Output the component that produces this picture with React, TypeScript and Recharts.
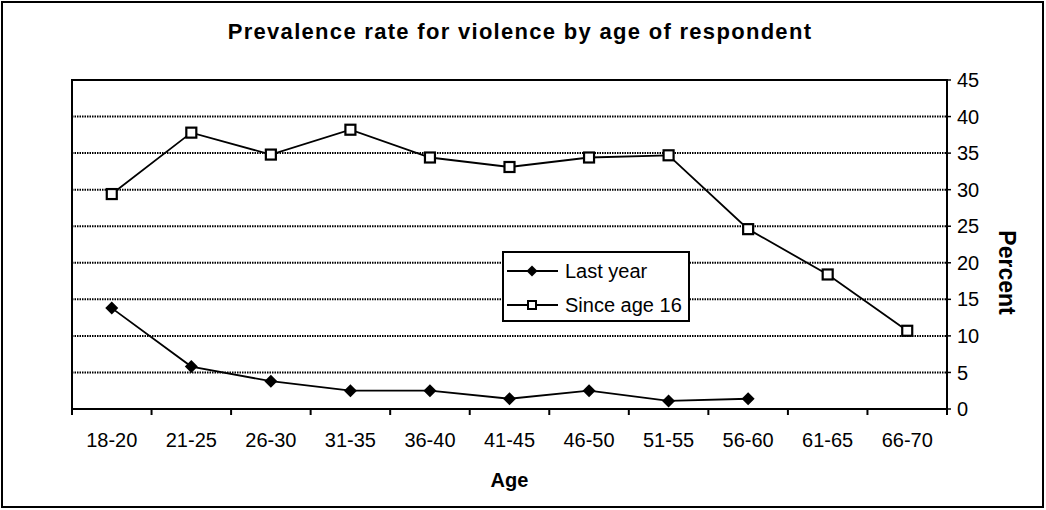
import { LineChart, Line, XAxis, YAxis, CartesianGrid, Legend, ReferenceArea } from 'recharts';

// age groups on the x axis
const ages = ['18-20', '21-25', '26-30', '31-35', '36-40', '41-45', '46-50', '51-55', '56-60', '61-65', '66-70'];
// percent
const lastYear = [13.8, 5.8, 3.8, 2.5, 2.5, 1.4, 2.5, 1.1, 1.4, null, null];
const sinceAge16 = [29.4, 37.8, 34.8, 38.2, 34.4, 33.1, 34.4, 34.7, 24.6, 18.4, 10.7];
const percentTicks = [0, 5, 10, 15, 20, 25, 30, 35, 40, 45];

const data = ages.map((age, i) => ({ age, lastYear: lastYear[i], since16: sinceAge16[i] }));

const W = 1046;
const H = 510;
const margin = { top: 80, right: 19, left: 72, bottom: 11 };
const Y_AXIS_W = 80;
const X_AXIS_H = 90;
const HALF_BAND = (W - margin.left - margin.right - Y_AXIS_W) / ages.length / 2;
const FONT = '"Liberation Sans", Arial, Helvetica, sans-serif';

function AgeTick(props: any) {
  const { x, y, payload } = props;
  const idx = payload?.index ?? props.index;
  return (
    <g>
      <line x1={x - HALF_BAND} x2={x - HALF_BAND} y1={y} y2={y + 6} stroke="#000" strokeWidth={2} />
      {idx === ages.length - 1 && (
        <line x1={x + HALF_BAND} x2={x + HALF_BAND} y1={y} y2={y + 6} stroke="#000" strokeWidth={2} />
      )}
      <text x={x} y={y + 38} textAnchor="middle" fontSize={20} fill="#000" fontFamily={FONT}>
        {payload.value}
      </text>
    </g>
  );
}

function Diamond(props: any) {
  const { cx, cy, index } = props;
  if (cx == null || cy == null) return <g key={`d-${index}`} />;
  return <path key={`d-${index}`} d={`M${cx},${cy - 6.5}L${cx + 6.5},${cy}L${cx},${cy + 6.5}L${cx - 6.5},${cy}Z`} fill="#000" />;
}

function Square(props: any) {
  const { cx, cy, index } = props;
  if (cx == null || cy == null) return <g key={`s-${index}`} />;
  return <rect key={`s-${index}`} x={cx - 5} y={cy - 5} width={10} height={10} fill="#fff" stroke="#000" strokeWidth={2.2} />;
}

const series = [
  { key: 'lastYear', name: 'Last year', marker: 'diamond' },
  { key: 'since16', name: 'Since age 16', marker: 'square' },
];

function LegendBox() {
  return (
    <div
      style={{
        width: 188,
        height: 71,
        boxSizing: 'border-box',
        border: '2px solid #000',
        background: '#fff',
        position: 'relative',
        fontFamily: FONT,
        fontSize: 20,
        color: '#000',
      }}
    >
      {series.map((s, i) => (
        <div key={s.key} style={{ position: 'absolute', left: 0, top: 7 + i * 34, height: 24, width: 184 }}>
          <svg width={56} height={24} style={{ position: 'absolute', left: 3, top: 0 }}>
            <line x1={0} x2={51} y1={11} y2={11} stroke="#000" strokeWidth={1.8} />
            {s.marker === 'diamond' ? (
              <path d="M25,5.5L30.5,11L25,16.5L19.5,11Z" fill="#000" />
            ) : (
              <rect x={21} y={7} width={8} height={8} fill="#fff" stroke="#000" strokeWidth={2} />
            )}
          </svg>
          <span style={{ position: 'absolute', left: 61, top: 0, lineHeight: '22px', whiteSpace: 'nowrap' }}>{s.name}</span>
        </div>
      ))}
    </div>
  );
}

export default function App() {
  return (
    <div style={{ position: 'absolute', left: 0, top: 0, width: W, height: H, background: '#fff', fontFamily: FONT }}>
      <div
        style={{
          position: 'absolute',
          left: 0,
          top: 21,
          width: 1040,
          textAlign: 'center',
          fontSize: 22,
          lineHeight: '22px',
          fontWeight: 'bold',
          letterSpacing: 1.3,
          color: '#000',
        }}
      >
        Prevalence rate for violence by age of respondent
      </div>
      <LineChart width={W} height={H} data={data} margin={margin} style={{ position: 'absolute', left: 0, top: 0 }}>
        <CartesianGrid vertical={false} stroke="#000" strokeWidth={2} strokeDasharray="1.5 1" />
        <ReferenceArea y1={0} y2={45} fill="none" fillOpacity={0} stroke="#000" strokeWidth={2} ifOverflow="visible" />
        <XAxis
          dataKey="age"
          scale="band"
          interval={0}
          height={X_AXIS_H}
          tickSize={0}
          tickMargin={0}
          tickLine={false}
          axisLine={{ stroke: '#000', strokeWidth: 2 }}
          tick={<AgeTick />}
          label={(p: any) => {
            const vb = p.viewBox || {};
            return (
              <text x={vb.x + vb.width / 2} y={vb.y + 78} textAnchor="middle" fontSize={20} fontWeight="bold" fill="#000" fontFamily={FONT}>
                Age
              </text>
            );
          }}
        />
        <YAxis
          orientation="right"
          domain={[0, 45]}
          ticks={percentTicks}
          interval={0}
          width={Y_AXIS_W}
          tickSize={4}
          tickMargin={6}
          axisLine={{ stroke: '#000', strokeWidth: 2 }}
          tickLine={{ stroke: '#000', strokeWidth: 1.5 }}
          tick={{ fontSize: 20, fill: '#000', fontFamily: FONT }}
          label={(p: any) => {
            const vb = p.viewBox || {};
            const cx = vb.x + 60;
            const cy = vb.y + vb.height / 2 + 28;
            return (
              <text
                x={cx}
                y={cy}
                transform={`rotate(90, ${cx}, ${cy})`}
                textAnchor="middle"
                dominantBaseline="central"
                fontSize={23}
                fontWeight="bold"
                fill="#000"
                fontFamily={FONT}
              >
                Percent
              </text>
            );
          }}
        />
        <Legend
          layout="vertical"
          align="center"
          verticalAlign="middle"
          content={() => <LegendBox />}
          wrapperStyle={{ position: 'absolute', left: 502, top: 251, width: 188, height: 71 }}
        />
        <Line
          dataKey="lastYear"
          name="Last year"
          stroke="#000"
          strokeWidth={1.8}
          dot={Diamond}
          activeDot={false}
          connectNulls={false}
          isAnimationActive={false}
        />
        <Line
          dataKey="since16"
          name="Since age 16"
          stroke="#000"
          strokeWidth={1.8}
          dot={Square}
          activeDot={false}
          isAnimationActive={false}
        />
      </LineChart>
      <div
        style={{
          position: 'absolute',
          left: 1,
          top: 1,
          width: 1043,
          height: 507,
          boxSizing: 'border-box',
          border: '2px solid #000',
          pointerEvents: 'none',
        }}
      />
    </div>
  );
}
